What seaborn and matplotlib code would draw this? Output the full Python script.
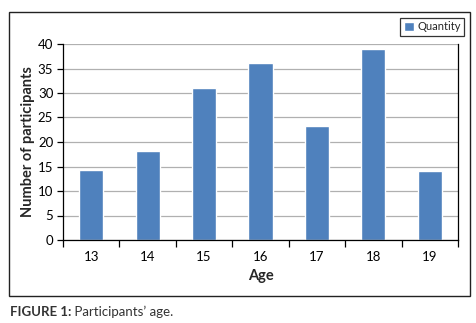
import matplotlib
matplotlib.use("Agg")
import matplotlib.pyplot as plt
import seaborn as sns
import pandas as pd
from matplotlib.patches import Rectangle
from matplotlib.ticker import FixedLocator, NullFormatter

sns.set_theme(style="white")
plt.rcParams['font.family'] = ['Lato', 'DejaVu Sans']

ages = ["13", "14", "15", "16", "17", "18", "19"]
quantity = [14.3, 18.2, 31.0, 36.1, 23.3, 39.0, 14.1]

df = pd.DataFrame({"Age": ages, "Quantity": quantity})

fig = plt.figure(figsize=(4.77, 3.23), dpi=100)
ax = fig.add_axes([63 / 477, 1 - 240 / 323, (458 - 63) / 477, (240 - 44) / 323])

sns.barplot(data=df, x="Age", y="Quantity", color="#4F81BD", width=0.43,
            saturation=1, label="Quantity", ax=ax)

ax.set_ylim(0, 40)
ax.set_xlim(-0.5, 6.5)
ax.set_yticks(range(0, 41, 5))
ax.yaxis.grid(True, color="#b0b0b0", linewidth=0.9)
ax.set_axisbelow(True)
for s in ["left", "bottom", "right"]:
    ax.spines[s].set_visible(True)
    ax.spines[s].set_color("black")
    ax.spines[s].set_linewidth(0.9)
ax.spines["top"].set_visible(False)

# tick marks between categories, labels at the centres
ax.tick_params(axis="x", which="major", length=0, labelsize=9.5, pad=8, colors="black")
ax.xaxis.set_minor_locator(FixedLocator([i - 0.5 for i in range(8)]))
ax.xaxis.set_minor_formatter(NullFormatter())
ax.tick_params(axis="x", which="minor", length=5, width=0.9, direction="out", bottom=True, color="black")
ax.tick_params(axis="y", length=4, width=0.9, direction="out", left=True, labelsize=9.5, pad=3, colors="black")

ax.set_xlabel("Age", fontsize=10.5, fontweight="bold", labelpad=4)
ax.set_ylabel("Number of participants", fontsize=10.5, fontweight="bold", labelpad=2)

leg = ax.legend(loc="upper right", bbox_to_anchor=(464 / 477, 1 - 18 / 323),
                bbox_transform=fig.transFigure, fontsize=8, frameon=True,
                fancybox=False, handlelength=0.9, handleheight=0.9,
                handletextpad=0.3, borderpad=0.3, borderaxespad=0)
leg.get_frame().set_edgecolor("black")
leg.get_frame().set_linewidth(0.9)

fig.patches.append(Rectangle((9 / 477, 1 - 296 / 323), (470 - 9) / 477, (296 - 12) / 323,
                             transform=fig.transFigure, fill=False,
                             edgecolor="#222222", linewidth=1.0))

cap = fig.text(10 / 477, 1 - 312 / 323, "FIGURE 1:", fontsize=9.5, fontweight="bold",
               color="#333333", va="center")
fig.canvas.draw()
ax.annotate(" Participants\u2019 age.", xy=(1, 0.5), xycoords=cap, va="center",
            ha="left", fontsize=9.5, color="#333333", annotation_clip=False)

fig.savefig("out.png", dpi=100)
